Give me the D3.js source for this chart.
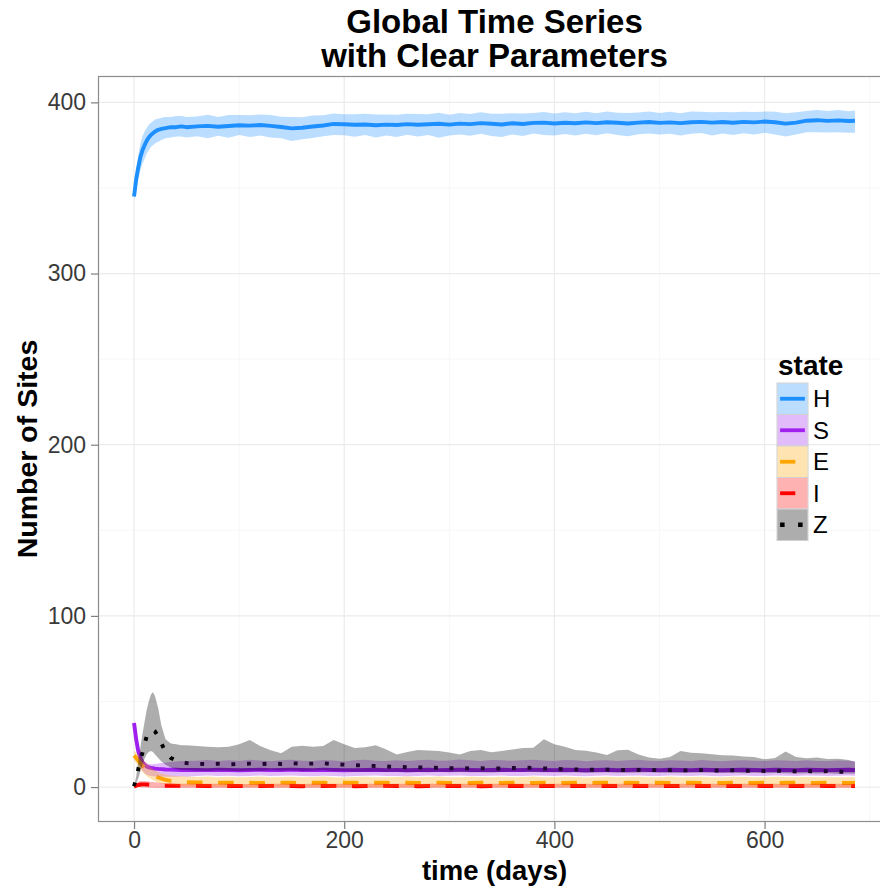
<!DOCTYPE html>
<html>
<head>
<meta charset="utf-8">
<script src="https://cdnjs.cloudflare.com/ajax/libs/d3/7.8.5/d3.min.js"></script>
<style>
  html, body { margin: 0; padding: 0; background: #fff; }
  svg { display: block; font-family: "Liberation Sans", Arial, Helvetica, sans-serif; }
</style>
</head>
<body>
<svg id="chart" width="880" height="886"></svg>
<script>
// Simulation output: mean and band per state over time
const days = [
  0, 2, 4, 6, 8, 10, 12, 14, 16, 18, 20, 23, 26, 30, 35, 40, 45, 50,
  60, 70, 80, 90, 100, 110, 120, 130, 140, 150,
  160, 170, 180, 190, 200, 210, 220, 230, 240, 250,
  260, 270, 280, 290, 300, 310, 320, 330, 340, 350,
  360, 370, 380, 390, 400, 410, 420, 430, 440, 450,
  460, 470, 480, 490, 500, 510, 520, 530, 540, 550,
  560, 570, 580, 590, 600, 610, 620, 630, 640, 650,
  660, 670, 680, 686
];

const hMid = [
  345, 355, 362, 368, 372, 375, 377.5, 379.5, 381, 382, 383, 384, 384.5, 385, 385.5, 385.5, 386, 385.5,
  386, 386.3, 385.8, 386.2, 386.6, 386.4, 386.8, 386.3, 385.6, 384.8,
  385.2, 385.9, 386.5, 387.4, 387.2, 386.9, 387.1, 386.6, 387.0, 386.8,
  387.3, 386.9, 387.2, 387.5, 387.0, 387.6, 387.3, 387.9, 387.5, 387.1,
  387.8, 387.4, 388.0, 388.2, 387.7, 388.1, 387.8, 388.3, 387.9, 388.4,
  388.1, 387.7, 388.2, 388.5, 388.0, 388.3, 387.9, 388.4, 388.6, 388.2,
  388.5, 388.1, 388.6, 388.3, 388.8, 388.4, 387.6, 388.2, 389.3, 389.6,
  389.2, 389.5, 389.1, 389.3
];
const hLo = [
  343, 350, 355, 360, 364, 367, 370, 372, 374, 375, 376, 377, 378, 379, 379.5, 380, 380, 379.5,
  380.2, 379.1, 380.5, 379.4, 380.9, 379.8, 380.6, 379.5, 379.0, 377.4,
  378.4, 379.2, 380.2, 381.0, 380.8, 379.9, 381.0, 379.5, 380.7, 379.8,
  381.1, 380.0, 380.9, 379.3, 380.6, 381.2, 380.5, 381.6, 380.4, 379.8,
  381.3, 380.4, 381.8, 380.9, 380.6, 381.5, 380.6, 381.7, 380.8, 381.9,
  381.0, 380.2, 381.4, 381.8, 381.2, 381.7, 380.6, 381.6, 382.1, 380.7,
  381.8, 380.9, 382.0, 381.2, 382.2, 381.3, 380.1, 381.3, 382.5, 382.6,
  382.4, 382.5, 382.2, 382.3
];
const hHi = [
  347, 360, 369, 376, 380, 383, 385, 387, 388, 389, 390, 390.5, 391, 391.5, 391.5, 392, 392, 391.5,
  391.8, 392.7, 391.5, 392.6, 392.6, 392.5, 392.9, 392.6, 391.6, 391.4,
  391.3, 392.3, 392.5, 393.5, 393.0, 393.0, 393.3, 392.9, 392.9, 392.8,
  393.4, 393.2, 393.1, 394.0, 392.8, 393.8, 393.2, 394.2, 393.3, 393.3,
  393.7, 393.5, 393.8, 394.4, 393.5, 394.3, 393.6, 394.5, 393.7, 394.6,
  393.9, 393.8, 394.1, 394.7, 393.8, 394.5, 393.7, 394.6, 394.5, 394.3,
  394.4, 394.3, 394.5, 394.4, 394.6, 394.5, 393.6, 394.3, 395.0, 395.6,
  394.9, 395.5, 394.8, 395.2
];

const sMid = [
  37.5, 28, 21, 17, 14.5, 13, 12, 11.5, 11.2, 11, 10.8, 10.6, 10.5, 10.3, 10.2, 10.1, 10, 10,
  10.0, 9.9, 10.1, 10.0, 9.8, 10.0, 10.1, 9.9, 10.0, 10.2,
  10.0, 9.9, 10.1, 10.0, 9.8, 9.9, 10.0, 10.1, 9.9, 10.0,
  9.8, 10.0, 10.1, 9.9, 10.0, 10.2, 10.0, 9.9, 10.0, 10.1,
  9.9, 10.0, 10.2, 10.0, 9.9, 10.1, 10.0, 9.8, 10.0, 10.1,
  9.9, 10.0, 10.2, 10.0, 9.9, 10.1, 10.0, 9.9, 10.1, 10.0,
  9.8, 10.0, 10.1, 10.0, 9.9, 10.1, 10.0, 9.9, 10.1, 10.0,
  9.9, 10.0, 10.1, 10.0
];
const sLo = [
  36, 24, 16, 12, 9.5, 8, 7.2, 6.8, 6.5, 6.3, 6.2, 6.1, 6.1, 6.0, 6.0, 6.0, 6.1, 6.0,
  6.5, 6.7, 6.4, 6.6, 6.3, 6.5, 6.8, 6.4, 6.6, 6.7,
  6.5, 6.3, 6.6, 6.5, 6.2, 6.4, 6.6, 6.7, 6.4, 6.5,
  6.3, 6.5, 6.7, 6.4, 6.6, 6.8, 6.5, 6.4, 6.6, 6.7,
  6.4, 6.5, 6.8, 6.6, 6.4, 6.7, 6.5, 6.3, 6.6, 6.7,
  6.5, 6.6, 6.8, 6.5, 6.4, 6.7, 6.6, 6.4, 6.7, 6.5,
  6.3, 6.6, 6.7, 6.5, 6.4, 6.7, 6.6, 6.4, 6.7, 6.6,
  6.4, 6.6, 6.7, 6.5
];
const sHi = [
  39, 31, 25, 20, 17, 15, 14, 13.5, 13.3, 13.3, 13.5, 13.8, 14, 14.3, 14.6, 15, 15.2, 15.3,
  15.4, 15.8, 15.2, 15.6, 15.3, 15.9, 15.5, 15.1, 15.7, 16.0,
  15.4, 15.2, 15.8, 15.5, 15.0, 15.6, 15.9, 15.4, 15.3, 15.7,
  15.2, 15.6, 15.9, 15.4, 15.5, 16.1, 15.6, 15.3, 15.8, 15.6,
  15.4, 15.7, 16.0, 15.5, 15.2, 15.8, 15.6, 15.1, 15.5, 15.7,
  15.3, 15.6, 15.9, 15.4, 15.2, 15.7, 15.5, 15.3, 15.8, 15.4,
  15.1, 15.5, 15.7, 15.4, 15.2, 15.6, 15.5, 15.2, 15.6, 15.3,
  15.2, 15.5, 15.4, 15.1
];

const eMid = [
  18.5, 17, 15.5, 14, 12.5, 11.2, 10, 9, 8, 7.2, 6.5, 5.6, 4.9, 4.2, 3.6, 3.2, 3.0, 2.8,
  2.7, 2.6, 2.6, 2.5, 2.6, 2.5, 2.4, 2.5, 2.6, 2.5,
  2.4, 2.5, 2.5, 2.4, 2.6, 2.5, 2.4, 2.5, 2.5, 2.4,
  2.5, 2.4, 2.5, 2.6, 2.4, 2.5, 2.4, 2.5, 2.5, 2.4,
  2.5, 2.5, 2.4, 2.6, 2.5, 2.4, 2.5, 2.4, 2.5, 2.5,
  2.4, 2.5, 2.4, 2.5, 2.5, 2.4, 2.5, 2.5, 2.4, 2.5,
  2.4, 2.5, 2.5, 2.4, 2.5, 2.4, 2.5, 2.5, 2.4, 2.4,
  2.5, 2.4, 2.4, 2.4
];
const eLo = [
  16, 14, 12, 10.3, 8.8, 7.5, 6.4, 5.5, 4.7, 4.0, 3.4, 2.7, 2.1, 1.5, 1.0, 0.7, 0.5, 0.4,
  0.3, 0.2, 0.2, 0.1, 0.2, 0.1, 0.0, 0.1, 0.2, 0.1,
  0.1, 0.2, 0.1, 0.0, 0.1, 0.2, 0.1, 0.1, 0.0, 0.1,
  0.2, 0.1, 0.1, 0.0, 0.1, 0.2, 0.1, 0.0, 0.1, 0.1,
  0.2, 0.1, 0.0, 0.1, 0.1, 0.2, 0.1, 0.0, 0.1, 0.1,
  0.0, 0.1, 0.2, 0.1, 0.1, 0.0, 0.1, 0.2, 0.1, 0.0,
  0.1, 0.1, 0.2, 0.1, 0.0, 0.1, 0.1, 0.0, 0.1, 0.1,
  0.2, 0.1, 0.0, 0.1
];
const eHi = [
  21, 20, 19, 17.8, 16.4, 15, 13.7, 12.5, 11.4, 10.5, 9.7, 8.7, 8.0, 7.3, 6.8, 6.5, 6.3, 6.2,
  5.9, 6.1, 5.8, 6.0, 5.7, 5.9, 6.2, 5.8, 5.9, 6.0,
  5.7, 5.9, 6.1, 5.8, 5.6, 5.9, 6.0, 5.8, 5.7, 5.9,
  6.1, 5.8, 5.9, 6.2, 5.7, 5.8, 6.0, 5.9, 5.7, 6.0,
  5.8, 5.9, 6.1, 5.7, 5.8, 6.0, 5.9, 5.6, 5.8, 6.0,
  5.7, 5.9, 6.0, 5.8, 5.7, 6.1, 5.8, 5.9, 6.0, 5.7,
  5.8, 6.0, 5.9, 5.7, 5.8, 6.0, 5.9, 5.7, 5.9, 5.8,
  5.9, 5.8, 5.7, 5.8
];

const iMid = [
  0.2, 0.8, 1.2, 1.5, 1.6, 1.6, 1.5, 1.4, 1.3, 1.2, 1.1, 1.0, 0.9, 0.8, 0.8, 0.7, 0.7, 0.7,
  0.7, 0.6, 0.7, 0.6, 0.6, 0.5, 0.6, 0.7, 0.6, 0.6,
  0.5, 0.6, 0.6, 0.7, 0.6, 0.5, 0.6, 0.6, 0.7, 0.6,
  0.6, 0.5, 0.6, 0.6, 0.7, 0.6, 0.6, 0.5, 0.6, 0.6,
  0.7, 0.6, 0.5, 0.6, 0.6, 0.6, 0.7, 0.6, 0.5, 0.6,
  0.6, 0.7, 0.6, 0.6, 0.5, 0.6, 0.6, 0.7, 0.6, 0.6,
  0.5, 0.6, 0.6, 0.7, 0.6, 0.6, 0.5, 0.6, 0.6, 0.7,
  0.6, 0.6, 0.5, 0.6
];
const iLo = [
  0, 0, 0, -0.1, -0.2, -0.3, -0.3, -0.4, -0.4, -0.4, -0.5, -0.5, -0.5, -0.5, -0.6, -0.6, -0.6, -0.6,
  -0.6, -0.6, -0.5, -0.6, -0.6, -0.6, -0.6, -0.5, -0.6, -0.6,
  -0.6, -0.5, -0.6, -0.6, -0.6, -0.6, -0.5, -0.6, -0.6, -0.6,
  -0.5, -0.6, -0.6, -0.6, -0.6, -0.5, -0.6, -0.6, -0.6, -0.6,
  -0.6, -0.6, -0.5, -0.6, -0.6, -0.6, -0.6, -0.5, -0.6, -0.6,
  -0.6, -0.5, -0.6, -0.6, -0.6, -0.6, -0.5, -0.6, -0.6, -0.6,
  -0.5, -0.6, -0.6, -0.6, -0.6, -0.5, -0.6, -0.6, -0.6, -0.6,
  -0.6, -0.5, -0.6, -0.6
];
const iHi = [
  0.5, 2, 3, 3.5, 3.6, 3.6, 3.4, 3.2, 3.0, 2.9, 2.8, 2.6, 2.4, 2.3, 2.2, 2.1, 2.0, 2.0,
  2.0, 1.9, 2.0, 1.9, 1.8, 1.8, 1.9, 2.0, 1.9, 1.9,
  1.8, 1.9, 1.9, 2.0, 1.9, 1.8, 1.9, 1.9, 2.0, 1.9,
  1.9, 1.8, 1.9, 1.9, 2.0, 1.9, 1.9, 1.8, 1.9, 1.9,
  2.0, 1.9, 1.8, 1.9, 1.9, 1.9, 2.0, 1.9, 1.8, 1.9,
  1.9, 2.0, 1.9, 1.9, 1.8, 1.9, 1.9, 2.0, 1.9, 1.9,
  1.8, 1.9, 1.9, 2.0, 1.9, 1.9, 1.8, 1.9, 1.9, 2.0,
  1.9, 1.9, 1.8, 1.9
];

const zMid = [
  0.5, 5, 10.5, 16, 20, 25, 29.5, 32, 33, 33.3, 32.5, 29.5, 25.5, 20.5, 17, 15.5, 14.5, 14,
  13.6, 13.4, 13.6, 13.3, 13.5, 13.7, 13.4, 13.8, 13.5, 13.9,
  13.6, 13.7, 13.9, 13.4, 13.1, 12.8, 12.5, 12.3, 12.0, 11.8,
  11.6, 11.5, 11.3, 11.2, 11.0, 11.1, 10.9, 11.0, 10.8, 10.9,
  11.1, 11.3, 11.2, 10.9, 10.6, 10.4, 10.3, 10.2, 10.1, 10.2,
  10.0, 9.9, 10.0, 10.1, 9.8, 9.9, 9.7, 9.8, 9.9, 9.7,
  9.6, 9.8, 9.5, 9.6, 9.4, 9.6, 9.3, 9.2, 9.4, 9.1,
  9.3, 9.0, 8.9, 8.8
];
const zLo = [
  0, 2, 5, 9, 13, 16.5, 19, 20.5, 21, 20.5, 19, 17, 15, 13, 11.5, 10.5, 10, 9.8,
  9.6, 9.4, 9.7, 9.5, 9.3, 9.6, 9.4, 9.8, 9.5, 9.7,
  9.4, 9.6, 9.8, 9.3, 9.2, 9.0, 8.9, 9.1, 8.8, 8.9,
  8.7, 8.8, 8.6, 8.9, 8.7, 8.8, 8.6, 8.7, 8.5, 8.8,
  8.9, 9.0, 8.8, 8.7, 8.6, 8.5, 8.7, 8.4, 8.5, 8.6,
  8.4, 8.3, 8.5, 8.6, 8.3, 8.4, 8.2, 8.4, 8.5, 8.3,
  8.2, 8.4, 8.1, 8.3, 8.0, 8.2, 8.1, 7.9, 8.1, 7.9,
  8.0, 7.8, 7.9, 7.8
];
const zHi = [
  0.5, 6, 15, 23, 31, 38, 45, 50, 54, 55.5, 53, 46, 36, 28, 25.5, 25, 24.5, 24.5,
  24, 23.6, 23.2, 23.5, 25, 27.5, 24, 21.5, 19.8, 23.5,
  24.2, 23.6, 24, 27.5, 25, 22.8, 23.2, 24.5, 22, 19,
  20.5, 21.6, 21.4, 21, 20.2, 19, 21, 21.6, 20.3, 21,
  22, 22.8, 23, 28, 25, 23.5, 21.6, 21.2, 20.2, 18.7,
  21.5, 21.8, 19, 17.2, 16.5, 17.5, 21, 20, 19.8, 19.2,
  18.6, 18.4, 17.8, 17.5, 16.2, 17, 20.8, 17.5, 16.8, 17.2,
  16.4, 16.6, 15.8, 14.8
];

const states = ["H", "S", "E", "I", "Z"];
const xTicks = [0, 200, 400, 600];
const yTicks = [0, 100, 200, 300, 400];

// Series table built from the arrays above
const series = [
  { key: "H", mid: hMid, lo: hLo, hi: hHi },
  { key: "S", mid: sMid, lo: sLo, hi: sHi },
  { key: "E", mid: eMid, lo: eLo, hi: eHi },
  { key: "I", mid: iMid, lo: iLo, hi: iHi },
  { key: "Z", mid: zMid, lo: zLo, hi: zHi }
].map(s => ({ ...s, points: days.map((d, i) => ({ t: d, m: s.mid[i], lo: s.lo[i], hi: s.hi[i] })) }));

// Visual styling per state
const style = {
  H: { color: "#1E90FF", fill: "#1E90FF", dash: null },
  S: { color: "#A020F0", fill: "#A020F0", dash: null },
  E: { color: "#FFA500", fill: "#FFA500", dash: "dashed" },
  I: { color: "#FF0000", fill: "#FF0000", dash: "dashed" },
  Z: { color: "#000000", fill: "#000000", dash: "dotted" }
};
const LW = 3.9;
function dashArray(kind, w) {
  if (kind === "dashed") return `${4 * w} ${4 * w}`;
  if (kind === "dotted") return `${w} ${3 * w}`;
  return null;
}

const svg = d3.select("#chart");
const panel = { left: 98, right: 891, top: 76, bottom: 822 };

// Expanded data ranges (5% on each side)
const xExt = d3.extent(days);
const xPad = (xExt[1] - xExt[0]) * 0.05;
const yMin = d3.min(series, s => d3.min(s.lo));
const yMax = d3.max(series, s => d3.max(s.hi));
const yPad = (yMax - yMin) * 0.05;

const x = d3.scaleLinear().domain([xExt[0] - xPad, xExt[1] + xPad]).range([panel.left, panel.right]);
const y = d3.scaleLinear().domain([yMin - yPad, yMax + yPad]).range([panel.bottom, panel.top]);

svg.append("defs").append("clipPath").attr("id", "panelClip")
  .append("rect")
  .attr("x", panel.left).attr("y", panel.top)
  .attr("width", panel.right - panel.left).attr("height", panel.bottom - panel.top);

// Panel background and grid
svg.append("rect")
  .attr("x", panel.left).attr("y", panel.top)
  .attr("width", panel.right - panel.left).attr("height", panel.bottom - panel.top)
  .attr("fill", "#ffffff");

const grid = svg.append("g").attr("clip-path", "url(#panelClip)");
const xMinor = [100, 300, 500, 700];
const yMinor = [50, 150, 250, 350];
grid.selectAll(".xminor").data(xMinor).join("line")
  .attr("x1", d => x(d)).attr("x2", d => x(d))
  .attr("y1", panel.top).attr("y2", panel.bottom)
  .attr("stroke", "#f7f7f7").attr("stroke-width", 1);
grid.selectAll(".yminor").data(yMinor).join("line")
  .attr("x1", panel.left).attr("x2", panel.right)
  .attr("y1", d => y(d)).attr("y2", d => y(d))
  .attr("stroke", "#f7f7f7").attr("stroke-width", 1);
grid.selectAll(".xmajor").data(xTicks).join("line")
  .attr("x1", d => x(d)).attr("x2", d => x(d))
  .attr("y1", panel.top).attr("y2", panel.bottom)
  .attr("stroke", "#ebebeb").attr("stroke-width", 1.2);
grid.selectAll(".ymajor").data(yTicks).join("line")
  .attr("x1", panel.left).attr("x2", panel.right)
  .attr("y1", d => y(d)).attr("y2", d => y(d))
  .attr("stroke", "#ebebeb").attr("stroke-width", 1.2);

const plot = svg.append("g").attr("clip-path", "url(#panelClip)");

const line = d3.line().x(d => x(d.t)).y(d => y(d.m));
const area = d3.area().x(d => x(d.t)).y0(d => y(d.lo)).y1(d => y(d.hi));

// Mean lines first, bands layered over them
plot.selectAll("path.mean").data(series).join("path")
  .attr("class", "mean")
  .attr("d", s => line(s.points))
  .attr("fill", "none")
  .attr("stroke", s => style[s.key].color)
  .attr("stroke-width", LW)
  .attr("stroke-linejoin", "round")
  .attr("stroke-dasharray", s => dashArray(style[s.key].dash, LW));

plot.selectAll("path.band").data(series).join("path")
  .attr("class", "band")
  .attr("d", s => area(s.points))
  .attr("fill", s => style[s.key].fill)
  .attr("fill-opacity", s => s.key === "Z" ? 0.32 : 0.3)
  .attr("stroke", "none");

// Panel border
svg.append("rect")
  .attr("x", panel.left + 0.5).attr("y", panel.top + 0.5)
  .attr("width", panel.right - panel.left).attr("height", panel.bottom - panel.top - 1)
  .attr("fill", "none").attr("stroke", "#8c8c8c").attr("stroke-width", 1.2);

// Axes
const axisColor = "#7f7f7f";
const xAxis = svg.append("g")
  .attr("transform", `translate(0,${panel.bottom})`)
  .call(d3.axisBottom(x).tickValues(xTicks).tickSize(7).tickPadding(3).tickFormat(d3.format("d")));
const yAxis = svg.append("g")
  .attr("transform", `translate(${panel.left},0)`)
  .call(d3.axisLeft(y).tickValues(yTicks).tickSize(7).tickPadding(5).tickFormat(d3.format("d")));
[xAxis, yAxis].forEach(g => {
  g.select(".domain").remove();
  g.selectAll(".tick line").attr("stroke", axisColor).attr("stroke-width", 1.2);
  g.selectAll(".tick text")
    .attr("fill", "#3a3a3a")
    .style("font-size", "23px")
    .style("font-family", "'Liberation Sans', Arial, sans-serif");
});

// Titles
const cx = (panel.left + panel.right) / 2;
svg.append("text").attr("x", cx).attr("y", 33)
  .attr("text-anchor", "middle").attr("font-weight", "bold").attr("font-size", 33)
  .attr("fill", "#000").text("Global Time Series");
svg.append("text").attr("x", cx).attr("y", 67)
  .attr("text-anchor", "middle").attr("font-weight", "bold").attr("font-size", 33)
  .attr("fill", "#000").text("with Clear Parameters");

svg.append("text").attr("x", cx).attr("y", 880)
  .attr("text-anchor", "middle").attr("font-weight", "bold").attr("font-size", 27.5)
  .attr("fill", "#000").text("time (days)");

svg.append("text")
  .attr("transform", `translate(37,${(panel.top + panel.bottom) / 2}) rotate(-90)`)
  .attr("text-anchor", "middle").attr("font-weight", "bold").attr("font-size", 28.5)
  .attr("fill", "#000").text("Number of Sites");

// Legend
const legend = svg.append("g").attr("transform", "translate(777,383)");
legend.append("text").attr("x", 1).attr("y", -8)
  .attr("font-weight", "bold").attr("font-size", 28).attr("fill", "#000").text("state");
const keyW = 31, keyH = 31.5;
const keys = legend.selectAll("g.key").data(states).join("g")
  .attr("class", "key")
  .attr("transform", (d, i) => `translate(0,${i * keyH})`);
keys.append("rect").attr("width", keyW).attr("height", keyH)
  .attr("fill", "#ffffff").attr("stroke", "#d0d0d0").attr("stroke-width", 1);
keys.append("line")
  .attr("x1", keyW * 0.1).attr("x2", keyW * 0.9)
  .attr("y1", keyH / 2).attr("y2", keyH / 2)
  .attr("stroke", d => style[d].color)
  .attr("stroke-width", d => d === "Z" ? 4.5 : 3.8)
  .attr("stroke-dasharray", d => dashArray(style[d].dash, d === "Z" ? 4.5 : 3.8));
keys.append("rect").attr("x", 0.5).attr("y", 0.5).attr("width", keyW - 1).attr("height", keyH - 1)
  .attr("fill", d => style[d].fill).attr("fill-opacity", d => d === "Z" ? 0.32 : 0.3);
keys.append("text").attr("x", keyW + 5).attr("y", keyH / 2 + 8.5)
  .attr("font-size", 24).attr("fill", "#000").text(d => d);
</script>
</body>
</html>
